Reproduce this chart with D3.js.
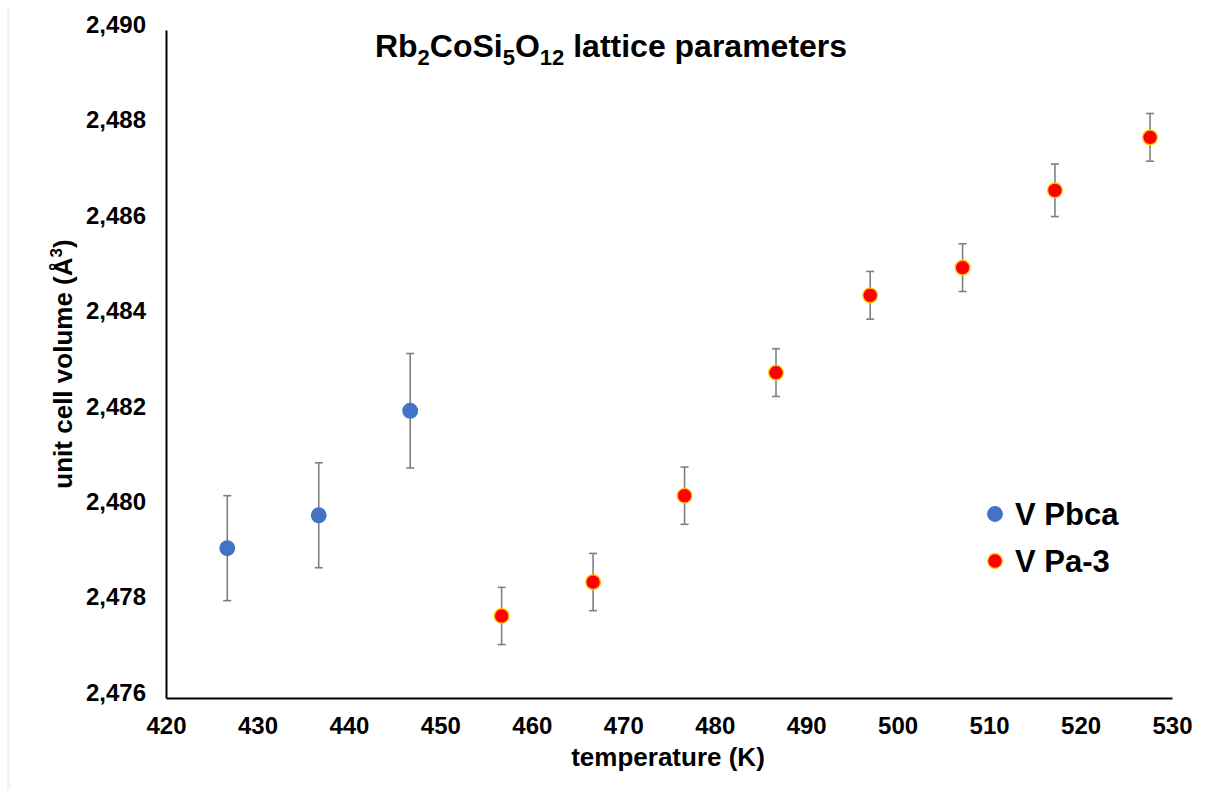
<!DOCTYPE html>
<html>
<head>
<meta charset="utf-8">
<script src="https://cdn.jsdelivr.net/npm/d3@7"></script>
<style>
  body { margin: 0; background: #fff; }
  svg text { font-family: "Liberation Sans", Arial, sans-serif; font-weight: bold; fill: #000; }
</style>
</head>
<body>
<svg id="chart" width="1213" height="796"></svg>
<script>
// Pbca phase
const tempPbca = [426.7, 436.7, 446.7];
const volPbca = [2479.14, 2479.83, 2482.02];
const errPbca = [1.1, 1.1, 1.2];

// Pa-3 phase
const tempPa3 = [456.7, 466.7, 476.7, 486.7, 497.0, 507.1, 517.2, 527.6];
const volPa3 = [2477.72, 2478.43, 2480.24, 2482.82, 2484.44, 2485.02, 2486.64, 2487.75];
const errPa3 = [0.6, 0.6, 0.6, 0.5, 0.5, 0.5, 0.55, 0.5];

const xTicks = [420, 430, 440, 450, 460, 470, 480, 490, 500, 510, 520, 530];
const yTicks = [2476, 2478, 2480, 2482, 2484, 2486, 2488, 2490];

const seriesNames = ['V Pbca', 'V Pa-3'];

const svg = d3.select('#chart');
const margin = { top: 30, right: 41, bottom: 98, left: 166 };
const width = 1213, height = 796;
const innerWidth = width - margin.left - margin.right;
const innerHeight = height - margin.top - margin.bottom;

// faint frame line at the left edge
svg.append('line')
    .attr('x1', 8.5).attr('x2', 8.5).attr('y1', 9).attr('y2', 790)
    .attr('stroke', '#f6f2e4').attr('stroke-width', 3);

const g = svg.append('g').attr('transform', `translate(${margin.left},${margin.top})`);

const x = d3.scaleLinear().domain([420, 530]).range([0, innerWidth]);
const y = d3.scaleLinear().domain([2476, 2490]).range([innerHeight, 0]);

const fmt = d3.format(',');

const xAxis = g.append('g')
    .attr('transform', `translate(0,${innerHeight})`)
    .call(d3.axisBottom(x).tickValues(xTicks).tickSize(0).tickPadding(19).tickFormat(d3.format('d')));
const yAxis = g.append('g')
    .call(d3.axisLeft(y).tickValues(yTicks).tickSize(0).tickPadding(20).tickFormat(fmt));

[xAxis, yAxis].forEach(a => {
    a.attr('font-size', 24).attr('font-family', null);
    a.select('.domain').attr('stroke', '#000').attr('stroke-width', 2);
    a.selectAll('text').style('font-size', '24px');
});
yAxis.selectAll('text').attr('dy', '0.1em');

const series = [
    { name: seriesNames[0], t: tempPbca, v: volPbca, e: errPbca, fill: '#4472c4', stroke: '#4472c4' },
    { name: seriesNames[1], t: tempPa3, v: volPa3, e: errPa3, fill: '#ff0000', stroke: '#ffc000' }
];

series.forEach(s => {
    const pts = s.t.map((t, i) => ({ t, v: s.v[i], e: s.e[i] }));
    const eb = g.append('g').selectAll('g').data(pts).enter().append('g')
        .attr('stroke', '#7f7f7f').attr('stroke-width', 1.6);
    eb.append('line')
        .attr('x1', d => x(d.t)).attr('x2', d => x(d.t))
        .attr('y1', d => y(d.v + d.e)).attr('y2', d => y(d.v - d.e));
    eb.append('line')
        .attr('x1', d => x(d.t) - 4).attr('x2', d => x(d.t) + 4)
        .attr('y1', d => y(d.v + d.e)).attr('y2', d => y(d.v + d.e));
    eb.append('line')
        .attr('x1', d => x(d.t) - 4).attr('x2', d => x(d.t) + 4)
        .attr('y1', d => y(d.v - d.e)).attr('y2', d => y(d.v - d.e));

    g.append('g').selectAll('circle').data(pts).enter().append('circle')
        .attr('cx', d => x(d.t)).attr('cy', d => y(d.v))
        .attr('r', 7.3)
        .attr('fill', s.fill).attr('stroke', s.stroke).attr('stroke-width', 1.3);
});

// title
const title = svg.append('text')
    .attr('x', 611).attr('y', 57)
    .attr('text-anchor', 'middle')
    .style('font-size', '32px');
title.append('tspan').text('Rb');
title.append('tspan').text('2').attr('dy', 8).style('font-size', '22px');
title.append('tspan').text('CoSi').attr('dy', -8);
title.append('tspan').text('5').attr('dy', 8).style('font-size', '22px');
title.append('tspan').text('O').attr('dy', -8);
title.append('tspan').text('12').attr('dy', 8).style('font-size', '22px');
title.append('tspan').text(' lattice parameters').attr('dy', -8);

// axis titles
svg.append('text')
    .attr('x', 668).attr('y', 766)
    .attr('text-anchor', 'middle')
    .style('font-size', '26px')
    .text('temperature (K)');

const yt = svg.append('text')
    .attr('transform', 'translate(72,364) rotate(-90)')
    .attr('text-anchor', 'middle')
    .style('font-size', '26px');
yt.append('tspan').text('unit cell volume (Å');
yt.append('tspan').text('3').attr('dy', -10).style('font-size', '17px');
yt.append('tspan').text(')').attr('dy', 10);

// legend
const legend = svg.append('g');
series.forEach((s, i) => {
    const ly = 514 + i * 47;
    legend.append('circle')
        .attr('cx', 995).attr('cy', ly).attr('r', 7.3)
        .attr('fill', s.fill).attr('stroke', s.stroke).attr('stroke-width', 1.3);
    legend.append('text')
        .attr('x', 1015).attr('y', ly + 11)
        .style('font-size', '31px')
        .text(s.name);
});
</script>
</body>
</html>
